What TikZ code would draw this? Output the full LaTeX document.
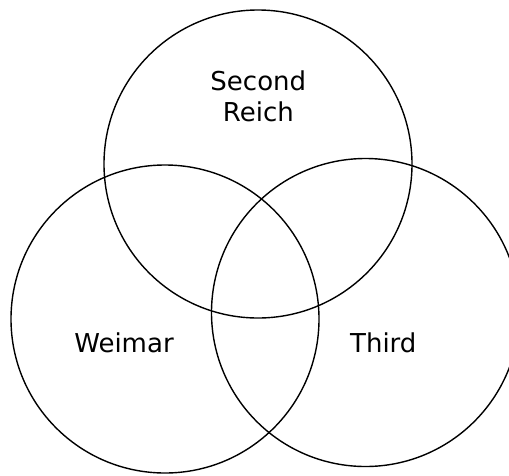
\documentclass[tikz,border=0pt]{standalone}
\usepackage{fontspec}
\setmainfont{DejaVu Sans}
\begin{document}
\begin{tikzpicture}[x=1pt,y=-1pt,
  venn/.style={circle,draw=black,line width=1.4pt,inner sep=0pt,minimum size=308pt},
  lbl/.style={anchor=base,inner sep=0pt,font=\fontsize{26}{31}\selectfont}]
\useasboundingbox (0,0) rectangle (509,475);
\node[venn] (top) at (258,164) {};
\node[venn] (left) at (165,319) {};
\node[venn] (right) at (365.5,312.5) {};
\node[lbl] (second) at (258.3,90) {Second};
\node[lbl] (reich) at (258.3,121.7) {Reich};
\node[lbl] (weimar) at (124,352.7) {Weimar};
\node[lbl] (third) at (383.3,352.7) {Third};
\end{tikzpicture}
\end{document}
